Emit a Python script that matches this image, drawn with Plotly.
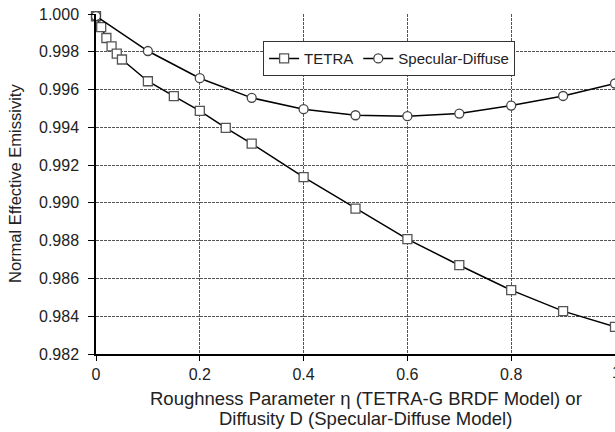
import plotly.graph_objects as go

tetra_x = [0, 0.01, 0.02, 0.03, 0.04, 0.05, 0.1, 0.15, 0.2, 0.25, 0.3, 0.4, 0.5, 0.6, 0.7, 0.8, 0.9, 1.0]
tetra_y = [0.99988, 0.99931, 0.99873, 0.99829, 0.99790, 0.99759, 0.99644, 0.99565, 0.99487,
           0.99397, 0.99314, 0.99136, 0.98970, 0.98808, 0.98670, 0.98538, 0.98427, 0.98344]
sd_x = [0, 0.1, 0.2, 0.3, 0.4, 0.5, 0.6, 0.7, 0.8, 0.9, 1.0]
sd_y = [0.99989, 0.99804, 0.99660, 0.99556, 0.99496, 0.99464, 0.99459, 0.99473, 0.99515, 0.99566, 0.99632]

x_ticks = [0, 0.2, 0.4, 0.6, 0.8, 1.0]
x_ticktext = ["0", "0.2", "0.4", "0.6", "0.8", "1"]
y_ticks = [0.982, 0.984, 0.986, 0.988, 0.990, 0.992, 0.994, 0.996, 0.998, 1.000]
x_title_lines = ["Roughness Parameter η (TETRA-G BRDF Model) or",
                 "Diffusity D (Specular-Diffuse Model)"]

FONT = "Liberation Sans, Arial, Helvetica, sans-serif"

fig = go.Figure()
fig.add_trace(go.Scatter(
    x=tetra_x, y=tetra_y, mode="lines+markers", name="TETRA",
    line=dict(color="black", width=1.5),
    marker=dict(symbol="square", size=9, color="white", line=dict(color="#555555", width=1.3)),
    cliponaxis=False,
))
fig.add_trace(go.Scatter(
    x=sd_x, y=sd_y, mode="lines+markers", name="Specular-Diffuse",
    line=dict(color="black", width=1.5),
    marker=dict(symbol="circle", size=9, color="white", line=dict(color="#444444", width=1.3)),
    cliponaxis=False,
))

fig.update_layout(
    width=615, height=432,
    margin=dict(l=96, r=0, t=14, b=78),
    paper_bgcolor="white", plot_bgcolor="white",
    font=dict(family=FONT, size=16, color="#222222"),
    showlegend=True,
    legend=dict(
        orientation="h", x=0.322, y=0.92, xanchor="left", yanchor="top",
        bordercolor="#333333", borderwidth=1, bgcolor="white",
        font=dict(size=15, family=FONT, color="#222222"),
        itemwidth=30, tracegroupgap=0,
    ),
)
fig.update_xaxes(
    range=[0, 1.0], tickvals=x_ticks, ticktext=x_ticktext,
    showline=True, linecolor="black", linewidth=1.5,
    ticks="outside", ticklen=5, tickcolor="black", tickwidth=1,
    showgrid=True, gridcolor="#555555", gridwidth=1, griddash="3px,1px",
    zeroline=False, tickfont=dict(size=16),
)
fig.update_yaxes(
    range=[0.982, 1.000], tickvals=y_ticks, tickformat=".3f",
    showline=True, linecolor="black", linewidth=1.5,
    ticks="outside", ticklen=6, tickcolor="black", tickwidth=1,
    showgrid=True, gridcolor="#555555", gridwidth=1, griddash="3px,1px",
    zeroline=False, tickfont=dict(size=16), ticklabelstandoff=6,
)
# partially visible "1" tick label at the right edge
fig.add_annotation(
    x=1.0, y=0, xref="paper", yref="paper", xanchor="center", yanchor="top",
    yshift=-8, xshift=1,
    text=x_ticktext[-1], showarrow=False, font=dict(size=16),
)
fig.add_annotation(
    x=0.52, y=0, xref="paper", yref="paper", xanchor="center", yanchor="middle", yshift=-44,
    text=x_title_lines[0], showarrow=False, font=dict(size=18.5),
)
fig.add_annotation(
    x=0.52, y=0, xref="paper", yref="paper", xanchor="center", yanchor="middle", yshift=-64,
    text=x_title_lines[1], showarrow=False, font=dict(size=18.5),
)
fig.add_annotation(
    x=(15 - 96) / 519, y=0.5, xref="paper", yref="paper", xanchor="center", yanchor="middle",
    showarrow=False,
    text="Normal Effective Emissivity", textangle=-90, font=dict(size=16.5),
)

fig.write_html("out.html")
